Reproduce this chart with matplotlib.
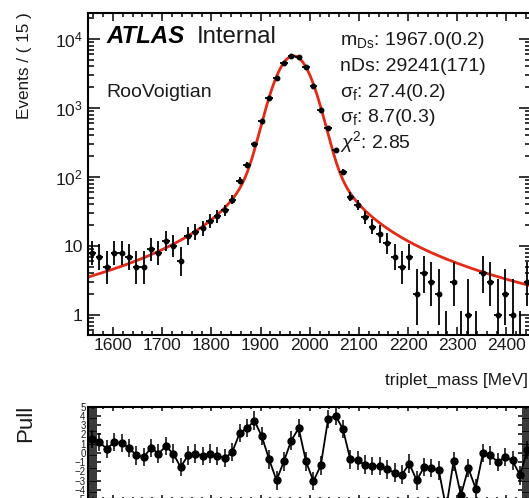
import numpy as np
import matplotlib
matplotlib.use("Agg")
import matplotlib.pyplot as plt
from matplotlib.ticker import FixedLocator, FixedFormatter, LogLocator, MultipleLocator, NullFormatter

plt.rcParams['font.family'] = ['Liberation Sans', 'DejaVu Sans']
plt.rcParams['mathtext.fontset'] = 'custom'
plt.rcParams['mathtext.rm'] = 'Liberation Sans'
plt.rcParams['mathtext.it'] = 'Liberation Sans:italic'
plt.rcParams['mathtext.bf'] = 'Liberation Sans:bold'

# binning: 60 bins of 15 MeV
x_lo, x_hi, bin_w = 1550, 2450, 15
bin_centers = np.arange(x_lo + bin_w / 2, x_hi, bin_w)

counts = [8, 7, 5, 8, 8, 7, 5, 5, 9, 8,
          12, 10, 6, 14, 16, 18, 23, 27, 33, 47,
          88, 149, 304, 655, 1396, 2694, 4444, 5674, 5546, 3927,
          2084, 945, 508, 246, 119, 52, 39, 26, 19, 15,
          11, 7, 5, 7, 2, 4, 3, 2, 0, 3,
          0, 1, 0, 4, 3, 1, 2, 1, 0, 3]

pulls = [1.5, 1.14, 0.43, 1.14, 1.03, 0.54, -0.29, -0.47, 0.54, -0.1,
         0.71, -0.1, -1.55, -0.29, -0.1, -0.36, -0.1, -0.36, -0.58, 0.07,
         2.11, 2.65, 3.47, 1.79, -0.72, -2.98, -0.93, 1.32, 2.65, -0.93,
         -3.08, -1.37, 3.66, 4.01, 2.58, -0.72, -0.83, -1.29, -1.44, -1.44,
         -1.8, -2.15, -2.37, -1.18, -2.98, -1.55, -1.66, -1.9, -6.0, -0.93,
         -4.6, -1.66, -3.87, 0.0, -0.29, -1.0, -0.47, -0.83, -2.44, 0.3]

# fit result shown on the plot
m_ds, n_ds, sigma, gamma = 1967.0, 29241, 27.4, 8.7

x_ticks = [1600, 1700, 1800, 1900, 2000, 2100, 2200, 2300, 2400]
y_ticks = [1, 10, 100, 1000, 10000]
y_tick_labels = ['1', '10', '$10^{2}$', '$10^{3}$', '$10^{4}$']
pull_ticks = [-5, -4, -3, -2, -1, 0, 1, 2, 3, 4, 5]


def voigt(x, m, s, g):
    t = np.linspace(-8 * s, 8 * s, 1601)
    gk = np.exp(-t ** 2 / (2 * s ** 2))
    gk /= gk.sum()
    lor = (g / (2 * np.pi)) / ((x[:, None] - m - t[None, :]) ** 2 + g ** 2 / 4)
    return (lor * gk).sum(axis=1)


xs = np.linspace(x_lo, x_hi, 1801)
pdf = voigt(xs, m_ds, sigma, gamma)
curve = n_ds * bin_w * pdf / np.trapezoid(pdf, xs)

# poisson-like asymmetric errors
n = np.array(counts, dtype=float)
err_hi = np.where(n > 0, np.sqrt(n + 0.75) + 1, 1.15)
safe = np.where(n > 0, n, 1)
err_lo = np.where(n > 0, n - n * (1 - 1 / (9 * safe) - 1 / (3 * np.sqrt(safe))) ** 3, 0)

ink = '#1a1a1a'
red = '#e42a17'

fig = plt.figure(figsize=(5.29, 4.98), dpi=100)
ax = fig.add_axes([0.1671, 0.3273, 0.8367, 0.6466])
axp = fig.add_axes([0.1671, -0.002, 0.8367, 0.1857])

ax.plot(xs, curve, color=red, lw=2.0, zorder=2)
ax.errorbar(bin_centers, n, yerr=[err_lo, err_hi], xerr=bin_w / 2, fmt='o',
            ms=3.2, color='black', elinewidth=1.3, capsize=0, zorder=3)

ax.set_yscale('log')
ax.set_xlim(x_lo, x_hi)
ax.set_ylim(0.513, 23800)
ax.xaxis.set_major_locator(FixedLocator(x_ticks))
ax.xaxis.set_minor_locator(MultipleLocator(20))
ax.yaxis.set_major_locator(FixedLocator(y_ticks))
ax.yaxis.set_major_formatter(FixedFormatter(y_tick_labels))
ax.yaxis.set_minor_locator(LogLocator(base=10, subs=np.arange(2, 10)))
ax.yaxis.set_minor_formatter(NullFormatter())
ax.tick_params(which='both', direction='in', top=True, right=True, width=1.1,
               colors='black', labelcolor=ink, labelsize=12.6)
ax.tick_params(axis='x', which='major', length=6, pad=2)
ax.tick_params(axis='x', which='minor', length=3)
ax.tick_params(axis='y', which='major', length=8.5, pad=4)
ax.tick_params(axis='y', which='minor', length=4.3)
for sp in ax.spines.values():
    sp.set_linewidth(1.5)

axp.errorbar(bin_centers, pulls, yerr=1, fmt='-o', ms=5, color='black',
             lw=1.3, elinewidth=1.1, capsize=0)
axp.set_xlim(x_lo, x_hi)
axp.set_ylim(-5, 5)
axp.xaxis.set_major_locator(FixedLocator(x_ticks))
axp.xaxis.set_minor_locator(MultipleLocator(20))
axp.yaxis.set_major_locator(FixedLocator(pull_ticks))
axp.yaxis.set_minor_locator(MultipleLocator(0.2))
axp.tick_params(which='both', direction='in', top=True, right=True, width=1.1,
                labelbottom=False, labelcolor=ink, labelsize=7)
axp.tick_params(axis='x', which='major', length=3)
axp.tick_params(axis='x', which='minor', length=1.5)
axp.tick_params(axis='y', which='major', length=9.5, pad=2)
axp.tick_params(axis='y', which='minor', length=6.5)
for sp in axp.spines.values():
    sp.set_linewidth(1.5)

fig.text(25 / 529, 1 - 12 / 498, 'Events / ( 15 )', rotation=90, ha='center',
         va='top', fontsize=12.3, color=ink)
fig.text(26 / 529, 1 - 423 / 498, 'Pull', rotation=90, ha='center',
         va='center', fontsize=16, color=ink)
fig.text(528 / 529, 1 - 385 / 498, 'triplet_mass [MeV]', ha='right',
         va='baseline', fontsize=12.4, color=ink)

fig.text(107 / 529, 1 - 43 / 498, 'ATLAS', fontsize=17.3, fontweight='bold',
         fontstyle='italic', color='black', va='baseline')
fig.text(197 / 529, 1 - 43 / 498, 'Internal', fontsize=17.3, color=ink,
         va='baseline')
fig.text(106 / 529, 1 - 97 / 498, 'RooVoigtian', fontsize=14, color=ink,
         va='baseline')

info = ['m$_{\\mathrm{Ds}}$: 1967.0(0.2)',
        'nDs: 29241(171)',
        'σ$_{\\mathrm{f}}$: 27.4(0.2)',
        'σ$_{\\mathrm{f}}$: 8.7(0.3)',
        '$\\chi^{2}$: 2.85']
for i, line in enumerate(info):
    fig.text(340 / 529, 1 - (45 + 25.8 * i) / 498, line, fontsize=14,
             color=ink, va='baseline')

fig.savefig('out.png', dpi=100)
